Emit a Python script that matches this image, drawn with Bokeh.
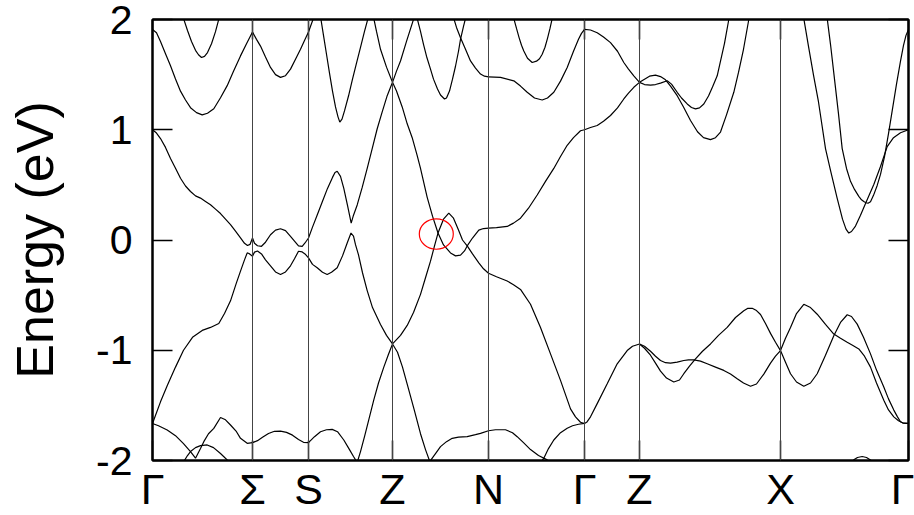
from bokeh.plotting import figure
from bokeh.models import Range1d, LinearAxis, FixedTicker, Span
from bokeh.embed import file_html
from bokeh.resources import INLINE

# high-symmetry path
sym_k = [0, 100, 156, 240, 336, 432, 487, 628, 756]
sym_labels = ["Γ", "Σ", "S", "Z", "N", "Γ", "Z", "X", "Γ"]
e_ticks = [-2, -1, 0, 1, 2]
e_labels = ["-2", "-1", "0", "1", "2"]

# marked crossing (ellipse)
mark_k = [283.8]
mark_e = [0.054]

# ---- bands, segment by segment (k, E in eV) ----
A1_k = [30, 31, 35, 39, 43, 46, 49, 52, 55, 59, 63, 66.5, 67.5]
A1_e = [2.05, 2.01, 1.90, 1.80, 1.72, 1.68, 1.655, 1.665, 1.70, 1.78, 1.89, 2.01, 2.05]
A2_k = [0, 4, 8, 13, 18, 23, 28, 33, 38, 44, 49.7, 55, 61.3, 68, 74.7, 81, 88, 94, 100]
A2_e = [1.91, 1.88, 1.80, 1.69, 1.58, 1.46, 1.35, 1.27, 1.20, 1.155, 1.135, 1.15, 1.19, 1.29, 1.40, 1.53, 1.67, 1.78, 1.886]
A3_k = [0, 4, 8, 13, 18, 23, 28, 33, 38, 43, 48, 53, 58, 63, 68, 73, 78, 83, 88, 92, 95, 97.5, 100]
A3_e = [1.0, 0.97, 0.92, 0.84, 0.74, 0.65, 0.56, 0.49, 0.44, 0.40, 0.38, 0.35, 0.32, 0.28, 0.24, 0.19, 0.14, 0.08, 0.02, -0.03, -0.05, -0.04, 0.018]
A4_k = [0, 8, 15, 23, 31, 40, 49.7, 58, 66.3, 72, 78, 84, 88, 92, 94.7, 96.5, 100]
A4_e = [-1.664, -1.468, -1.315, -1.153, -1.0, -0.883, -0.82, -0.793, -0.757, -0.667, -0.552, -0.387, -0.282, -0.18, -0.117, -0.122, -0.147]
A5_k = [0, 6, 14.7, 23, 31, 38, 43, 48, 51.3, 56, 61.3, 68, 73, 78, 84, 88, 94.7, 100]
A5_e = [-1.664, -1.685, -1.724, -1.775, -1.847, -1.919, -1.979, -1.892, -1.829, -1.757, -1.709, -1.610, -1.631, -1.678, -1.739, -1.799, -1.844, -1.838]
A6_k = [30.5, 31.3, 35, 38, 43, 48, 54.7, 61, 68, 76.3, 77]
A6_e = [-2.03, -2.009, -1.955, -1.919, -1.883, -1.865, -1.859, -1.883, -1.937, -2.009, -2.03]

B1_k = [100, 102, 105, 109, 113, 118, 123, 128, 133, 138, 142, 146, 149.7, 152.5, 156]
B1_e = [0.018, -0.03, -0.052, -0.057, -0.02, 0.048, 0.09, 0.102, 0.085, 0.033, -0.01, -0.054, -0.057, -0.027, 0.018]
B2_k = [100, 102, 105, 109, 113, 118, 123, 128, 133, 138, 142, 146, 149.7, 152.5, 156]
B2_e = [-0.147, -0.11, -0.10, -0.126, -0.18, -0.234, -0.29, -0.313, -0.29, -0.234, -0.17, -0.102, -0.108, -0.126, -0.162]
B3_k = [100, 104, 108, 113, 118, 123, 128, 133, 138, 143, 148, 152, 156, 158.5, 161.3, 163]
B3_e = [1.886, 1.82, 1.759, 1.66, 1.565, 1.50, 1.475, 1.49, 1.55, 1.64, 1.73, 1.81, 1.886, 1.95, 2.02, 2.06]
B4_k = [100, 105, 110, 116, 122, 128, 134, 140, 146, 151, 156]
B4_e = [-1.838, -1.82, -1.79, -1.755, -1.735, -1.733, -1.745, -1.77, -1.81, -1.835, -1.838]

D1_k = [156, 160, 165, 170, 175, 180, 182.5, 184.7, 188, 191.3, 195, 198.7, 201, 204.7, 209.7, 214.7, 219.7, 224.7, 229.7, 234.7, 240]
D1_e = [0.018, 0.117, 0.234, 0.351, 0.468, 0.568, 0.613, 0.624, 0.577, 0.468, 0.315, 0.153, 0.225, 0.318, 0.477, 0.649, 0.829, 1.009, 1.162, 1.309, 1.430]
D2_k = [156, 160, 164.7, 170, 174.7, 179, 184.7, 190, 194.7, 198.5, 201, 203, 206, 210, 214.7, 220, 228, 234, 240]
D2_e = [-0.162, -0.221, -0.252, -0.293, -0.313, -0.293, -0.252, -0.144, -0.027, 0.063, 0.036, -0.042, -0.135, -0.297, -0.459, -0.613, -0.766, -0.865, -0.943]
D3_k = [167.5, 168, 171, 174, 177, 180, 183, 185.5, 187.3, 189.5, 192, 196, 200, 204, 208, 212, 216, 216.5]
D3_e = [2.06, 2.027, 1.856, 1.685, 1.514, 1.351, 1.207, 1.117, 1.069, 1.096, 1.171, 1.306, 1.459, 1.604, 1.748, 1.892, 2.027, 2.06]
D4_k = [220, 221.3, 224, 228, 234, 240]
D4_e = [2.07, 2.009, 1.892, 1.730, 1.568, 1.430]
D5_k = [156, 162, 168, 174, 179.7, 185, 191.3, 197, 201, 204.7, 208, 212, 216, 221.3, 226, 231.3, 236, 240]
D5_e = [-1.838, -1.784, -1.739, -1.721, -1.718, -1.739, -1.814, -1.901, -1.964, -2.018, -1.919, -1.784, -1.640, -1.450, -1.297, -1.153, -1.036, -0.943]

F4_k = [240, 244, 248, 254, 261.3, 263]
F4_e = [1.430, 1.532, 1.624, 1.802, 2.009, 2.06]
C1_k = [240, 244, 249.7, 254.7, 259.7, 264.7, 268, 274.7, 280, 285.5, 291, 298, 303, 308, 312, 314.7, 320, 326.3, 331, 336,
        344, 354.7, 361, 368, 376, 384.7, 393, 401.3, 408, 414.7, 421, 428, 432]
C1_e = [1.430, 1.351, 1.207, 1.054, 0.928, 0.766, 0.649, 0.387, 0.216, 0.063, -0.045, -0.117, -0.144, -0.138, -0.099, -0.054, 0.018, 0.090, 0.104, 0.108,
        0.113, 0.123, 0.153, 0.198, 0.288, 0.408, 0.532, 0.649, 0.757, 0.859, 0.928, 0.991, 1.0]
C2_k = [240, 248, 254.7, 261, 268, 273, 278, 282, 285.5, 291, 296.3, 301, 306, 310, 314.7, 320, 326.3, 331, 336,
        344, 354.7, 361, 368, 378, 388, 398, 408, 418, 423, 428, 432]
C2_e = [-0.943, -0.865, -0.775, -0.658, -0.493, -0.342, -0.192, -0.054, 0.063, 0.189, 0.243, 0.198, 0.090, 0.0, -0.054, -0.126, -0.207, -0.261, -0.302,
        -0.333, -0.372, -0.405, -0.448, -0.583, -0.793, -1.033, -1.273, -1.532, -1.604, -1.653, -1.664]
E1_k = [240, 245, 250, 256, 262, 268, 273, 277.3, 279]
E1_e = [-0.943, -1.018, -1.153, -1.351, -1.550, -1.757, -1.901, -2.009, -2.054]
E2_k = [275, 277.3, 283, 288, 294, 299.7, 306, 314.7, 323, 328, 336, 343, 353, 360, 364.7, 371, 378, 386, 394.7, 399]
E2_e = [-2.081, -2.009, -1.937, -1.874, -1.829, -1.799, -1.788, -1.784, -1.766, -1.754, -1.730, -1.721, -1.721, -1.748, -1.784, -1.838, -1.901, -1.955, -1.994, -2.027]
E3_k = [432, 426, 420, 414.7, 408, 401.3, 396, 391.3, 387]
E3_e = [-1.664, -1.671, -1.685, -1.707, -1.748, -1.814, -1.892, -1.979, -2.036]
F1_k = [359.5, 361.3, 364, 366.5, 369, 371.3, 375, 379.7, 384, 387, 389.7, 392.5, 395, 397.5, 399.7, 401.5]
F1_e = [2.09, 2.009, 1.919, 1.838, 1.766, 1.714, 1.649, 1.610, 1.622, 1.644, 1.685, 1.748, 1.829, 1.919, 2.009, 2.09]
F2_k = [336, 348, 361.3, 368, 374.7, 382, 389.7, 395, 401.3, 408, 414.7, 421, 426, 429, 432]
F2_e = [1.480, 1.475, 1.444, 1.396, 1.340, 1.288, 1.270, 1.288, 1.340, 1.441, 1.565, 1.712, 1.820, 1.874, 1.910]
F3_k = [300, 301.3, 304, 308, 313, 318, 323, 328, 332, 336]
F3_e = [2.045, 2.009, 1.928, 1.835, 1.730, 1.624, 1.559, 1.505, 1.486, 1.480]
F5_k = [263.5, 264.7, 268, 271, 274, 278, 281, 285, 288, 292, 294, 297, 300, 303, 306, 308, 311, 313, 314]
F5_e = [2.072, 2.009, 1.892, 1.775, 1.667, 1.550, 1.459, 1.369, 1.315, 1.279, 1.288, 1.351, 1.459, 1.576, 1.712, 1.820, 1.937, 2.009, 2.054]

G1_k = [432, 438, 444.7, 451, 458, 465, 471.3, 476, 481.3, 487]
G1_e = [1.910, 1.905, 1.880, 1.842, 1.790, 1.712, 1.610, 1.550, 1.489, 1.430]
G2_k = [432, 438, 444.7, 451, 458, 465, 471.3, 476, 481.3, 487]
G2_e = [1.0, 1.020, 1.039, 1.077, 1.129, 1.198, 1.279, 1.333, 1.385, 1.430]
G5_k = [432, 434.5, 438, 444.7, 454.7, 464.7, 474.7, 480, 487]
G5_e = [-1.664, -1.65, -1.604, -1.484, -1.304, -1.123, -1.003, -0.964, -0.943]
G3_k = [487, 492, 498, 503, 508, 514.7, 519, 524.7, 529, 534.7, 539, 543, 547, 551.3, 556, 560, 564.7, 568, 572, 576.3, 579]
G3_e = [1.430, 1.410, 1.405, 1.410, 1.423, 1.444, 1.414, 1.340, 1.288, 1.234, 1.202, 1.189, 1.198, 1.234, 1.306, 1.387, 1.489, 1.622, 1.784, 2.000, 2.135]
G4_k = [487, 492, 497, 503, 508, 513, 518, 524.7, 531, 538, 545, 551, 558, 563, 568, 574, 581.3, 586, 591, 596.3, 599]
G4_e = [1.430, 1.459, 1.486, 1.495, 1.482, 1.453, 1.396, 1.309, 1.207, 1.084, 0.982, 0.928, 0.910, 0.928, 0.979, 1.135, 1.340, 1.520, 1.730, 2.000, 2.144]
G6_k = [487, 492, 498, 503, 508, 513, 518, 524.7, 531.3, 536, 541.3, 548, 554.7, 563, 571.3, 578, 584.7, 591, 598, 604, 611.3, 618, 623, 628]
G6_e = [-0.943, -0.964, -1.009, -1.054, -1.093, -1.113, -1.117, -1.108, -1.093, -1.087, -1.088, -1.099, -1.123, -1.153, -1.183, -1.216, -1.258, -1.297, -1.327, -1.306, -1.216, -1.117, -1.054, -1.003]
G7_k = [487, 492, 498, 503, 508, 514, 521.3, 527, 531.3, 537, 543, 550, 558, 566, 574.7, 583, 591.3, 595, 599.7, 604, 608, 613, 618, 623, 628]
G7_e = [-0.943, -0.982, -1.045, -1.117, -1.189, -1.252, -1.288, -1.270, -1.213, -1.144, -1.078, -1.009, -0.943, -0.865, -0.793, -0.703, -0.642, -0.621, -0.619, -0.640, -0.676, -0.757, -0.847, -0.928, -1.003]
G8_k = [628, 633, 638, 644, 651.3, 658, 664.7, 673, 681.3, 688, 694.7, 700, 706.3, 712, 718, 724, 731.3, 736, 741.3, 746, 750, 754.7, 756]
G8_e = [-1.003, -0.892, -0.793, -0.667, -0.583, -0.613, -0.673, -0.766, -0.853, -0.892, -0.928, -0.955, -0.988, -1.054, -1.153, -1.297, -1.453, -1.541, -1.604, -1.640, -1.658, -1.664, -1.664]
G9_k = [628, 633, 638, 644, 651.3, 658, 664.7, 673, 681.3, 688, 694.7, 699, 704.7, 711, 718, 724, 731.3, 736, 741.3, 745, 748, 751, 754.7, 756]
G9_e = [-1.003, -1.108, -1.213, -1.288, -1.327, -1.297, -1.213, -1.045, -0.868, -0.748, -0.678, -0.694, -0.763, -0.883, -1.033, -1.180, -1.333, -1.441, -1.543, -1.604, -1.649, -1.662, -1.664, -1.664]
G10_k = [650, 651.3, 656, 661, 666, 673, 678, 684.7, 690, 693.5, 696.3, 699, 703, 708, 714, 721.3, 728, 734.7, 741, 748, 756]
G10_e = [2.09, 2.009, 1.757, 1.495, 1.252, 0.829, 0.631, 0.378, 0.189, 0.099, 0.063, 0.077, 0.126, 0.225, 0.351, 0.504, 0.667, 0.847, 0.928, 0.973, 1.0]
G11_k = [673, 674.7, 678, 682, 686, 689.7, 694, 698, 702, 706.3, 709, 711.3, 713.5, 715.5, 718, 721, 724.7, 728, 732, 736, 740, 744, 748, 751, 753.5, 756]
G11_e = [2.117, 2.009, 1.775, 1.459, 1.144, 0.829, 0.649, 0.532, 0.459, 0.396, 0.365, 0.349, 0.338, 0.333, 0.347, 0.405, 0.495, 0.595, 0.757, 0.964, 1.189, 1.414, 1.622, 1.766, 1.856, 1.910]
G12_k = [697, 701.3, 705, 709.7, 714, 718, 721]
G12_e = [-2.036, -1.994, -1.973, -1.964, -1.973, -1.995, -2.036]

bands = [
    (A1_k, A1_e), (A2_k, A2_e), (A3_k, A3_e), (A4_k, A4_e), (A5_k, A5_e), (A6_k, A6_e),
    (B1_k, B1_e), (B2_k, B2_e), (B3_k, B3_e), (B4_k, B4_e),
    (D1_k, D1_e), (D2_k, D2_e), (D3_k, D3_e), (D4_k, D4_e), (D5_k, D5_e),
    (F4_k, F4_e), (C1_k, C1_e), (C2_k, C2_e), (E1_k, E1_e), (E2_k, E2_e), (E3_k, E3_e),
    (F1_k, F1_e), (F2_k, F2_e), (F3_k, F3_e), (F5_k, F5_e),
    (G1_k, G1_e), (G2_k, G2_e), (G5_k, G5_e), (G3_k, G3_e), (G4_k, G4_e),
    (G6_k, G6_e), (G7_k, G7_e), (G8_k, G8_e), (G9_k, G9_e),
    (G10_k, G10_e), (G11_k, G11_e), (G12_k, G12_e),
]

FONT = "Liberation Sans"

p = figure(width=914, height=515, output_backend="svg", toolbar_location=None,
           x_range=Range1d(0, 756), y_range=Range1d(-2, 2),
           x_axis_type=None, y_axis_type=None,
           min_border_left=152, min_border_right=6, min_border_top=19, min_border_bottom=51)
p.outline_line_color = "black"
p.outline_line_width = 2
p.background_fill_color = "white"
p.border_fill_color = "white"


def style_axis(ax, size):
    ax.major_tick_in = 20
    ax.major_tick_out = 0
    ax.minor_tick_line_color = None
    ax.major_tick_line_color = "black"
    ax.major_tick_line_width = 1.5
    ax.axis_line_color = "black"
    ax.axis_line_width = 2
    ax.major_label_text_font = FONT
    ax.major_label_text_color = "black"
    ax.major_label_text_font_size = size


left = LinearAxis(ticker=FixedTicker(ticks=e_ticks),
                  major_label_overrides={t: s for t, s in zip(e_ticks, e_labels)})
style_axis(left, "41px")
left.major_label_standoff = 20
left.axis_label = "Energy (eV)"
left.axis_label_text_font = FONT
left.axis_label_text_font_size = "52px"
left.axis_label_text_font_style = "normal"
left.axis_label_text_color = "black"
left.axis_label_standoff = 29
p.add_layout(left, "left")

right = LinearAxis(ticker=FixedTicker(ticks=e_ticks),
                   major_label_overrides={t: "" for t in e_ticks})
style_axis(right, "0px")
p.add_layout(right, "right")

bottom = LinearAxis(ticker=FixedTicker(ticks=sym_k),
                    major_label_overrides={k: s for k, s in zip(sym_k, sym_labels)})
style_axis(bottom, "43px")
bottom.major_label_standoff = 4
p.add_layout(bottom, "below")

top = LinearAxis(ticker=FixedTicker(ticks=sym_k),
                 major_label_overrides={k: "" for k in sym_k})
style_axis(top, "0px")
p.add_layout(top, "above")

for k in sym_k[1:-1]:
    p.add_layout(Span(location=k, dimension="height", line_color="#444444", line_width=1))

for ks, es in bands:
    p.line(ks, es, line_color="black", line_width=1.2)

p.ellipse(x=mark_k, y=mark_e, width=34, height=0.276, fill_color=None,
          line_color="red", line_width=1.2)

open("out.html", "w").write(file_html(p, INLINE))
